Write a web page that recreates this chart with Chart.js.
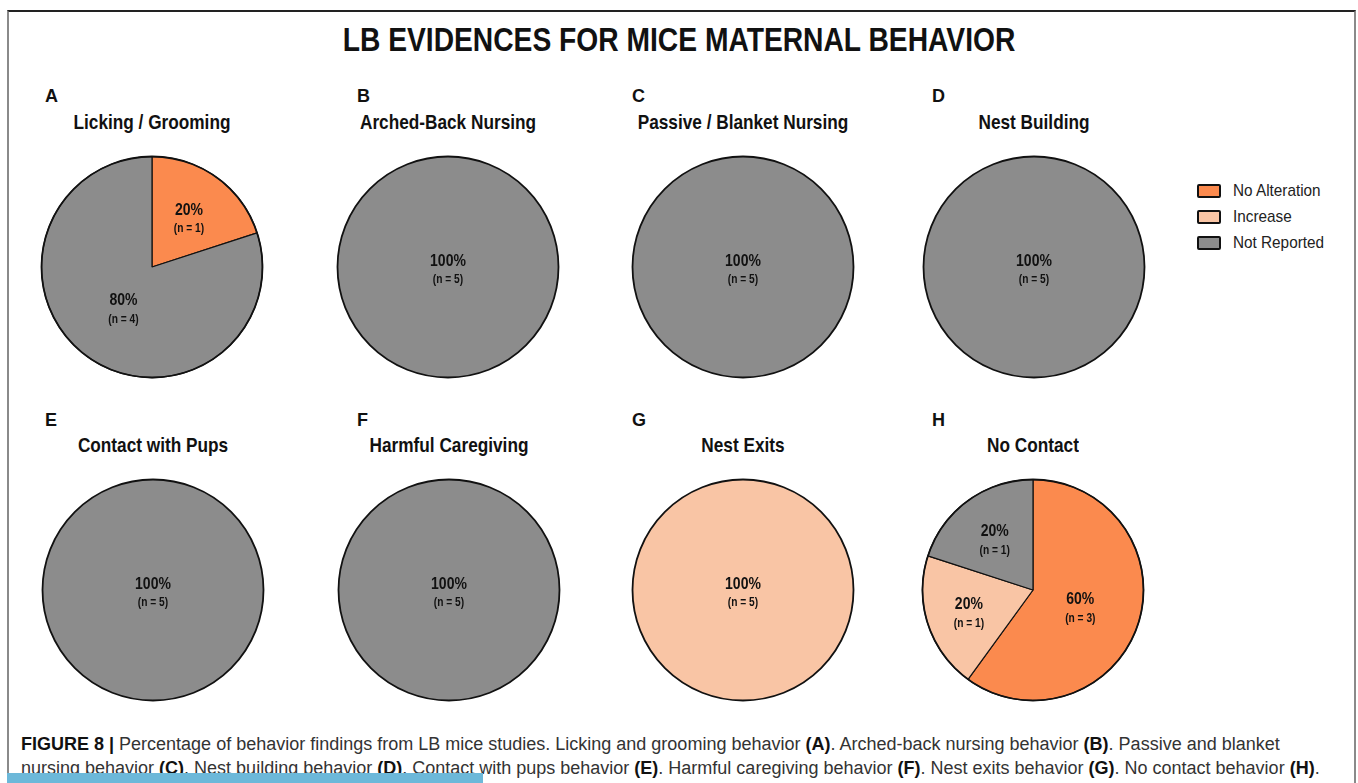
<!DOCTYPE html>
<html>
<head>
<meta charset="utf-8">
<script src="https://cdn.jsdelivr.net/npm/chart.js@4.4.0/dist/chart.umd.min.js"></script>
<style>
  html, body { margin: 0; padding: 0; background: #fff; }
  body { width: 1358px; height: 783px; position: relative; overflow: hidden; font-family: "Liberation Sans", Arial, sans-serif; }
  .frame { position: absolute; left: 7px; top: 10px; width: 1345px; height: 800px; border-top: 2px solid #222; border-left: 2px solid #8a8a8a; border-right: 2px solid #8a8a8a; }
  .title { position: absolute; left: 0; width: 1358px; top: 20px; text-align: center; font: bold 34px "Liberation Sans", sans-serif; color: #111; transform: scaleX(0.83); transform-origin: 679px 0; }
  .letter { position: absolute; font: bold 18px "Liberation Sans", Arial, sans-serif; color: #111; }
  .sub { position: absolute; width: 300px; text-align: center; font: bold 21px "Liberation Sans", sans-serif; color: #111; transform: scaleX(0.82); transform-origin: 150px 0; }
  .pie { position: absolute; width: 240px; height: 240px; }
  .legend { position: absolute; left: 1197px; top: 180px; font: 17px "Liberation Sans", sans-serif; color: #222; }
  .legend div { height: 26px; line-height: 22px; white-space: nowrap; }
  .legend span.box { display: inline-block; width: 20px; height: 10px; border: 2px solid #111; border-radius: 2px; vertical-align: middle; margin-right: 12px; position: relative; top: -1px; }
  .legend span.txt { display: inline-block; transform: scaleX(0.9); transform-origin: 0 0; }
  .caption { position: absolute; left: 21px; top: 732px; font: 18px "Liberation Sans", Arial, sans-serif; color: #333; }
  .caption div { white-space: nowrap; height: 24px; line-height: 24px; }
  .caption b { color: #111; }
  .bluebar { position: absolute; left: 7px; top: 773px; width: 476px; height: 10px; background: #6cb8d9; }
</style>
</head>
<body>
<div class="frame"></div>
<div class="title">LB EVIDENCES FOR MICE MATERNAL BEHAVIOR</div>
<div id="panels"></div>
<div class="legend" id="legend"></div>
<div class="caption">
  <div><b>FIGURE 8 |</b> Percentage of behavior findings from LB mice studies. Licking and grooming behavior <b>(A)</b>. Arched-back nursing behavior <b>(B)</b>. Passive and blanket</div>
  <div>nursing behavior <b>(C)</b>. Nest building behavior <b>(D)</b>. Contact with pups behavior <b>(E)</b>. Harmful caregiving behavior <b>(F)</b>. Nest exits behavior <b>(G)</b>. No contact behavior <b>(H)</b>.</div>
</div>
<div class="bluebar"></div>
<script>
// data
const categories = ['No Alteration', 'Increase', 'Not Reported'];
const colors = ['#fb8a4e', '#f9c5a5', '#8c8c8c'];
const panelLetters = ['A', 'B', 'C', 'D', 'E', 'F', 'G', 'H'];
const panelTitles = ['Licking / Grooming', 'Arched-Back Nursing', 'Passive / Blanket Nursing', 'Nest Building',
                     'Contact with Pups', 'Harmful Caregiving', 'Nest Exits', 'No Contact'];
const noAlteration = [1, 0, 0, 0, 0, 0, 0, 3];
const increase     = [0, 0, 0, 0, 0, 0, 5, 1];
const notReported  = [4, 5, 5, 5, 5, 5, 0, 1];

// layout
const centersX = [[151.5, 447.5, 743, 1034], [153, 449, 742.5, 1033]];
const centersY = [267, 590];
const letterX = [45, 357, 632, 932];
const letterY = [86, 410];
const subY = [110, 433];
const labelRadius = { 0: [0.57, 0.5, 0.44], 7: [0.45, 0.61, 0.59] };

const panels = document.getElementById('panels');

function narrowText(ctx, text, x, y, font) {
    ctx.save();
    ctx.font = font;
    ctx.translate(x, y);
    ctx.scale(0.85, 1);
    ctx.fillText(text, 0, 0);
    ctx.restore();
}

const sliceLabels = {
    id: 'sliceLabels',
    afterDatasetsDraw(chart) {
        const ctx = chart.ctx;
        const meta = chart.getDatasetMeta(0);
        const values = chart.data.datasets[0].data;
        const total = values.reduce((a, b) => a + b, 0);
        const f = chart.options.plugins.sliceLabels.radius;
        ctx.save();
        ctx.textAlign = 'center';
        ctx.textBaseline = 'middle';
        ctx.fillStyle = '#111';
        meta.data.forEach((arc, i) => {
            const v = values[i];
            if (!v) return;
            const p = arc.getProps(['x', 'y', 'startAngle', 'endAngle', 'outerRadius'], true);
            let px = p.x, py = p.y;
            if (p.endAngle - p.startAngle < Math.PI * 2 - 1e-6) {
                const mid = (p.startAngle + p.endAngle) / 2;
                px += Math.cos(mid) * p.outerRadius * f[i];
                py += Math.sin(mid) * p.outerRadius * f[i];
            }
            narrowText(ctx, Math.round(v / total * 100) + '%', px, py - 6, 'bold 16.5px "Liberation Sans", sans-serif');
            narrowText(ctx, '(n = ' + v + ')', px, py + 13, 'bold 12px "Liberation Sans", sans-serif');
        });
        // outer outline
        const a = meta.data[0];
        ctx.beginPath();
        ctx.arc(a.x, a.y, a.outerRadius, 0, Math.PI * 2);
        ctx.lineWidth = 1.8;
        ctx.strokeStyle = '#111';
        ctx.stroke();
        ctx.restore();
    }
};

for (let i = 0; i < 8; i++) {
    const row = Math.floor(i / 4), col = i % 4;
    const cx = centersX[row][col], cy = centersY[row];

    const letter = document.createElement('div');
    letter.className = 'letter';
    letter.style.left = letterX[col] + 'px';
    letter.style.top = letterY[row] + 'px';
    letter.textContent = panelLetters[i];
    panels.appendChild(letter);

    const sub = document.createElement('div');
    sub.className = 'sub';
    sub.style.left = (cx - 150) + 'px';
    sub.style.top = subY[row] + 'px';
    sub.textContent = panelTitles[i];
    panels.appendChild(sub);

    const box = document.createElement('div');
    box.className = 'pie';
    box.style.left = (cx - 120) + 'px';
    box.style.top = (cy - 120) + 'px';
    const canvas = document.createElement('canvas');
    canvas.width = 240;
    canvas.height = 240;
    box.appendChild(canvas);
    panels.appendChild(box);

    const values = [noAlteration[i], increase[i], notReported[i]];
    const slices = values.filter(v => v > 0).length;

    new Chart(canvas.getContext('2d'), {
        type: 'pie',
        data: {
            labels: categories,
            datasets: [{
                data: values,
                backgroundColor: colors,
                borderColor: '#111',
                borderWidth: slices > 1 ? 1.2 : 0,
            }]
        },
        options: {
            responsive: false,
            animation: false,
            events: [],
            radius: 110.5,
            layout: { padding: 0 },
            plugins: {
                legend: { display: false },
                tooltip: { enabled: false },
                sliceLabels: { radius: labelRadius[i] || [0.55, 0.55, 0.55] },
            }
        },
        plugins: [sliceLabels]
    });
}

// legend
const legend = document.getElementById('legend');
categories.forEach((c, i) => {
    const row = document.createElement('div');
    row.innerHTML = '<span class="box" style="background:' + colors[i] + '"></span><span class="txt">' + c + '</span>';
    legend.appendChild(row);
});
</script>
</body>
</html>
